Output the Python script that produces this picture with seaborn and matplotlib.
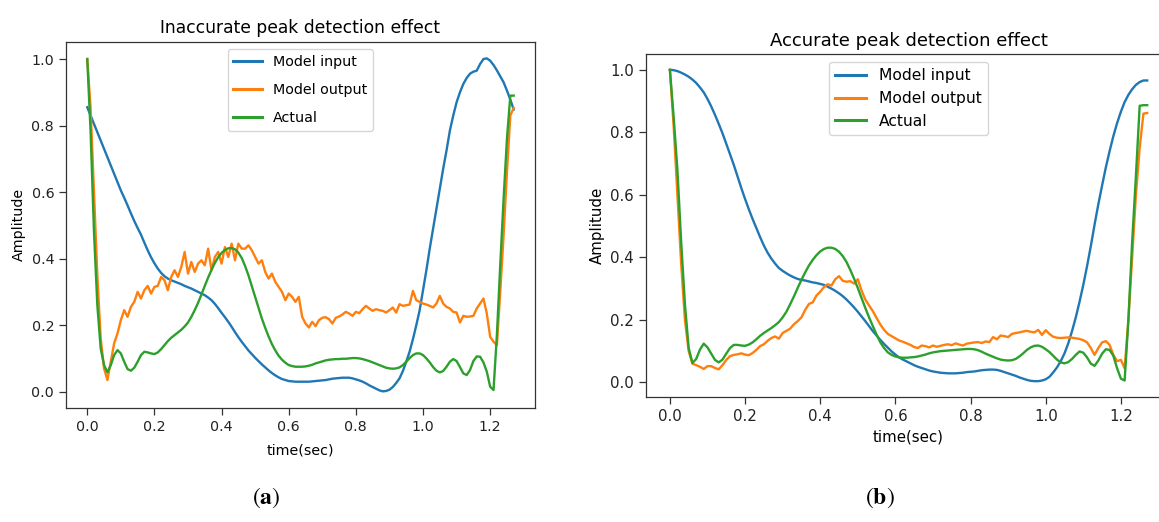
import numpy as np
import pandas as pd
import matplotlib
matplotlib.use("Agg")
import matplotlib.pyplot as plt
import seaborn as sns

# Sampling times (s), 10 ms step
time = np.arange(128) / 100.0

# ---- (a) inaccurate peak detection ----
a_input = [
    0.855, 0.830, 0.805, 0.780, 0.755, 0.730, 0.705, 0.680, 0.655, 0.630,
    0.605, 0.583, 0.560, 0.536, 0.513, 0.492, 0.472, 0.448, 0.425, 0.404,
    0.386, 0.370, 0.357, 0.347, 0.340, 0.335, 0.331, 0.327, 0.323, 0.318,
    0.314, 0.310, 0.305, 0.300, 0.295, 0.290, 0.283, 0.275, 0.264, 0.251,
    0.237, 0.224, 0.210, 0.195, 0.179, 0.164, 0.150, 0.137, 0.124, 0.113,
    0.102, 0.092, 0.082, 0.073, 0.064, 0.056, 0.049, 0.043, 0.038, 0.035,
    0.032, 0.031, 0.030, 0.030, 0.030, 0.030, 0.030, 0.031, 0.032, 0.033,
    0.034, 0.035, 0.037, 0.039, 0.040, 0.041, 0.042, 0.042, 0.042, 0.040,
    0.037, 0.034, 0.030, 0.025, 0.019, 0.014, 0.009, 0.004, 0.001, 0.002,
    0.006, 0.014, 0.026, 0.040, 0.062, 0.090, 0.120, 0.158, 0.200, 0.245,
    0.305, 0.365, 0.430, 0.490, 0.550, 0.612, 0.670, 0.725, 0.785, 0.830,
    0.870, 0.900, 0.925, 0.943, 0.956, 0.962, 0.965, 0.985, 1.000, 1.002,
    0.995, 0.982, 0.966, 0.948, 0.930, 0.905, 0.878, 0.848,
]
a_output = [
    1.000, 0.850, 0.600, 0.350, 0.160, 0.070, 0.035, 0.090, 0.145, 0.175,
    0.215, 0.245, 0.225, 0.255, 0.270, 0.300, 0.280, 0.305, 0.318, 0.295,
    0.315, 0.318, 0.345, 0.335, 0.305, 0.345, 0.365, 0.345, 0.375, 0.420,
    0.355, 0.390, 0.360, 0.385, 0.395, 0.380, 0.430, 0.365, 0.405, 0.420,
    0.385, 0.435, 0.405, 0.445, 0.395, 0.445, 0.430, 0.430, 0.440, 0.425,
    0.405, 0.385, 0.395, 0.360, 0.340, 0.355, 0.330, 0.315, 0.300, 0.275,
    0.295, 0.285, 0.270, 0.285, 0.225, 0.205, 0.193, 0.210, 0.197, 0.215,
    0.222, 0.224, 0.218, 0.205, 0.222, 0.226, 0.232, 0.240, 0.235, 0.228,
    0.240, 0.236, 0.248, 0.258, 0.250, 0.243, 0.248, 0.245, 0.243, 0.238,
    0.245, 0.253, 0.238, 0.263, 0.258, 0.260, 0.262, 0.303, 0.275, 0.270,
    0.265, 0.262, 0.258, 0.253, 0.265, 0.288, 0.265, 0.255, 0.250, 0.240,
    0.238, 0.208, 0.228, 0.225, 0.226, 0.228, 0.250, 0.265, 0.280, 0.235,
    0.165, 0.150, 0.140, 0.300, 0.470, 0.660, 0.830, 0.853,
]
a_actual = [
    1.000, 0.780, 0.480, 0.260, 0.130, 0.080, 0.058, 0.080, 0.110, 0.125,
    0.115, 0.090, 0.068, 0.063, 0.072, 0.090, 0.110, 0.120, 0.118, 0.115,
    0.113, 0.118, 0.128, 0.140, 0.152, 0.162, 0.170, 0.178, 0.186, 0.196,
    0.208, 0.225, 0.245, 0.267, 0.292, 0.318, 0.343, 0.366, 0.387, 0.404,
    0.417, 0.426, 0.431, 0.432, 0.428, 0.418, 0.402, 0.378, 0.350, 0.318,
    0.285, 0.252, 0.220, 0.192, 0.166, 0.143, 0.124, 0.108, 0.096, 0.087,
    0.080, 0.077, 0.075, 0.075, 0.075, 0.076, 0.078, 0.081, 0.085, 0.088,
    0.091, 0.094, 0.096, 0.097, 0.098, 0.098, 0.099, 0.099, 0.100, 0.101,
    0.101, 0.100, 0.098, 0.095, 0.092, 0.088, 0.084, 0.080, 0.076, 0.072,
    0.070, 0.069, 0.070, 0.073, 0.080, 0.090, 0.101, 0.110, 0.115, 0.115,
    0.110, 0.100, 0.088, 0.074, 0.063, 0.058, 0.062, 0.075, 0.090, 0.098,
    0.092, 0.074, 0.055, 0.050, 0.065, 0.092, 0.106, 0.105, 0.088, 0.060,
    0.015, 0.005, 0.170, 0.380, 0.580, 0.760, 0.890, 0.890,
]

# ---- (b) accurate peak detection ----
b_input = [
    1.000, 0.999, 0.996, 0.991, 0.985, 0.978, 0.969, 0.958, 0.944, 0.928,
    0.907, 0.883, 0.856, 0.827, 0.797, 0.764, 0.730, 0.696, 0.659, 0.622,
    0.587, 0.554, 0.523, 0.494, 0.465, 0.438, 0.415, 0.396, 0.380, 0.366,
    0.357, 0.349, 0.342, 0.336, 0.331, 0.328, 0.326, 0.323, 0.320, 0.318,
    0.315, 0.312, 0.306, 0.300, 0.293, 0.285, 0.276, 0.265, 0.253, 0.240,
    0.226, 0.211, 0.196, 0.180, 0.164, 0.150, 0.136, 0.123, 0.111, 0.099,
    0.089, 0.080, 0.073, 0.067, 0.061, 0.055, 0.050, 0.046, 0.042, 0.038,
    0.035, 0.033, 0.031, 0.030, 0.029, 0.029, 0.029, 0.030, 0.031, 0.033,
    0.034, 0.035, 0.037, 0.039, 0.040, 0.041, 0.041, 0.040, 0.037, 0.033,
    0.029, 0.025, 0.021, 0.016, 0.012, 0.008, 0.005, 0.004, 0.004, 0.006,
    0.010, 0.018, 0.032, 0.048, 0.068, 0.093, 0.125, 0.164, 0.208, 0.258,
    0.312, 0.372, 0.436, 0.505, 0.570, 0.630, 0.688, 0.740, 0.788, 0.830,
    0.866, 0.897, 0.920, 0.938, 0.952, 0.961, 0.966, 0.966,
]
b_output = [
    1.000, 0.820, 0.600, 0.380, 0.200, 0.100, 0.060, 0.055, 0.050, 0.043,
    0.052, 0.052, 0.046, 0.042, 0.055, 0.072, 0.084, 0.088, 0.090, 0.093,
    0.089, 0.087, 0.094, 0.104, 0.116, 0.122, 0.133, 0.142, 0.147, 0.140,
    0.158, 0.165, 0.172, 0.186, 0.196, 0.208, 0.232, 0.251, 0.256, 0.278,
    0.290, 0.305, 0.314, 0.310, 0.330, 0.340, 0.325, 0.322, 0.324, 0.316,
    0.330, 0.294, 0.265, 0.246, 0.228, 0.206, 0.185, 0.168, 0.155, 0.148,
    0.141, 0.134, 0.130, 0.125, 0.120, 0.113, 0.110, 0.118, 0.116, 0.112,
    0.118, 0.114, 0.117, 0.120, 0.122, 0.119, 0.125, 0.121, 0.118, 0.124,
    0.126, 0.128, 0.129, 0.126, 0.131, 0.129, 0.145, 0.138, 0.150, 0.148,
    0.145, 0.155, 0.158, 0.160, 0.163, 0.165, 0.162, 0.160, 0.168, 0.152,
    0.167, 0.155, 0.146, 0.143, 0.142, 0.143, 0.144, 0.143, 0.141, 0.139,
    0.135, 0.128, 0.110, 0.088, 0.110, 0.128, 0.132, 0.120, 0.088, 0.068,
    0.072, 0.045, 0.200, 0.400, 0.600, 0.750, 0.860, 0.862,
]
b_actual = [
    1.000, 0.850, 0.680, 0.450, 0.250, 0.110, 0.062, 0.075, 0.105, 0.124,
    0.112, 0.092, 0.072, 0.064, 0.073, 0.092, 0.110, 0.120, 0.120, 0.118,
    0.117, 0.121, 0.128, 0.138, 0.149, 0.158, 0.166, 0.174, 0.183, 0.193,
    0.208, 0.226, 0.250, 0.275, 0.302, 0.328, 0.352, 0.374, 0.392, 0.407,
    0.419, 0.427, 0.431, 0.431, 0.427, 0.418, 0.404, 0.385, 0.360, 0.332,
    0.302, 0.270, 0.238, 0.208, 0.180, 0.153, 0.128, 0.110, 0.096, 0.088,
    0.083, 0.080, 0.079, 0.079, 0.080, 0.081, 0.083, 0.086, 0.089, 0.093,
    0.096, 0.098, 0.100, 0.101, 0.102, 0.103, 0.104, 0.105, 0.106, 0.107,
    0.107, 0.106, 0.103, 0.098, 0.092, 0.087, 0.082, 0.077, 0.073, 0.071,
    0.070, 0.071, 0.075, 0.083, 0.093, 0.104, 0.112, 0.117, 0.118, 0.114,
    0.106, 0.097, 0.085, 0.073, 0.064, 0.061, 0.065, 0.075, 0.088, 0.099,
    0.095, 0.080, 0.060, 0.053, 0.070, 0.092, 0.106, 0.104, 0.085, 0.045,
    0.012, 0.006, 0.200, 0.450, 0.660, 0.885, 0.887, 0.887,
]

series_names = ["Model input", "Model output", "Actual"]
palette = ["#1f77b4", "#ff7f0e", "#2ca02c"]

panels = [
    dict(title="Inaccurate peak detection effect", tag="a",
         data=[a_input, a_output, a_actual],
         rect=[0.0569, 0.2184, 0.4047, 0.7017],
         fs=10.3, leg_fs=10.3, spacing=1.0, title_fs=12.3,
         xpad=7, tag_x=0.230),
    dict(title="Accurate peak detection effect", tag="b",
         data=[b_input, b_output, b_actual],
         rect=[0.5574, 0.2400, 0.4530, 0.6560],
         fs=10.8, leg_fs=11.2, spacing=0.5, title_fs=13.0,
         xpad=4, tag_x=0.759),
]

plt.rcParams["font.family"] = ["DejaVu Sans"]
plt.rcParams["mathtext.fontset"] = "stix"

fig = plt.figure(figsize=(11.59, 5.22), dpi=100)

for p in panels:
    ax = fig.add_axes(p["rect"])
    frames = []
    for name, vals in zip(series_names, p["data"]):
        frames.append(pd.DataFrame({"time": time, "value": vals, "series": name}))
    df = pd.concat(frames, ignore_index=True)
    sns.lineplot(data=df, x="time", y="value", hue="series",
                 hue_order=series_names, palette=palette,
                 linewidth=1.7, ax=ax, estimator=None, sort=False)
    fs = p["fs"]
    ax.set_title(p["title"], fontsize=p["title_fs"], pad=6)
    ax.set_xlabel("time(sec)", fontsize=fs, labelpad=p["xpad"])
    ax.set_ylabel("Amplitude", fontsize=fs)
    ax.set_xticks([0.0, 0.2, 0.4, 0.6, 0.8, 1.0, 1.2])
    ax.set_yticks([0.0, 0.2, 0.4, 0.6, 0.8, 1.0])
    ax.xaxis.set_major_formatter(matplotlib.ticker.FormatStrFormatter("%.1f"))
    ax.yaxis.set_major_formatter(matplotlib.ticker.FormatStrFormatter("%.1f"))
    ax.tick_params(labelsize=fs, length=5, width=0.9, color="#333333",
                   labelcolor="#222222")
    for s in ax.spines.values():
        s.set_linewidth(0.9)
        s.set_color("#333333")
    ax.margins(x=0.05, y=0.05)
    leg = ax.legend(loc="upper center", fontsize=p["leg_fs"], title=None,
                    frameon=True, fancybox=True, framealpha=0.8,
                    edgecolor="#cccccc", labelspacing=p["spacing"])
    for line in leg.get_lines():
        line.set_linewidth(2.2)
    fig.text(p["tag_x"], 0.023, r"$(\mathbf{" + p["tag"] + r"})$",
             ha="center", va="bottom", fontsize=17)

fig.savefig("out.png", dpi=100)
